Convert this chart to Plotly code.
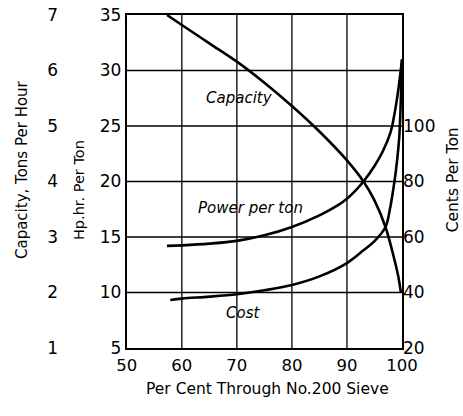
import plotly.graph_objects as go

# Data
pct_cap = [57.3, 60, 65, 70, 75, 80, 85, 90, 93, 95, 97, 98.5, 99.3, 99.8]
capacity = [7.0, 6.82, 6.49, 6.16, 5.78, 5.36, 4.9, 4.38, 4.0, 3.66, 3.18, 2.64, 2.3, 2.0]

pct_pow = [57.3, 60, 65, 70, 75, 80, 85, 88, 90, 91.5, 93, 95, 96.5, 97.9, 98.6, 99.2, 99.6, 100]
power = [14.2, 14.25, 14.4, 14.65, 15.15, 15.9, 16.95, 17.75, 18.45, 19.15, 20.0, 21.4, 22.7, 24.4, 26.0, 27.8, 29.3, 31.0]

pct_cost = [57.9, 60, 65, 70, 75, 80, 85, 90, 93, 95, 97, 97.8, 98.4, 98.9, 99.5, 99.8, 100]
cost = [37.3, 37.8, 38.5, 39.4, 40.8, 42.7, 45.8, 50.6, 55.2, 58.5, 63.6, 70.0, 77.0, 84.0, 96.0, 110.0, 124.0]

x_ticks = [50, 60, 70, 80, 90, 100]
hp_ticks = [5, 10, 15, 20, 25, 30, 35]
cap_ticks = [1, 2, 3, 4, 5, 6, 7]
cents_ticks = [20, 40, 60, 80, 100]

FONT = "DejaVu Sans"
W, H = 463, 416
ML, MR, MT, MB = 0, 61.3, 15, 68
paper_w = W - ML - MR
plot_left = 126.7

def px_x(px):
    return (px - ML) / paper_w

def px_y(py):
    return (H - MB - py) / (H - MT - MB)

line = dict(color="black", width=2.6, shape="spline", smoothing=1.0)

fig = go.Figure()
fig.add_trace(go.Scatter(x=pct_cap, y=capacity, yaxis="y2", mode="lines", line=line, hoverinfo="skip"))
fig.add_trace(go.Scatter(x=pct_pow, y=power, yaxis="y", mode="lines", line=line, hoverinfo="skip"))
fig.add_trace(go.Scatter(x=pct_cost, y=cost, yaxis="y3", mode="lines", line=line, hoverinfo="skip"))

tickfont = dict(family=FONT, size=17, color="black")

fig.update_layout(
    width=W, height=H,
    margin=dict(l=ML, r=MR, t=MT, b=MB, autoexpand=False),
    paper_bgcolor="white", plot_bgcolor="white",
    showlegend=False,
    xaxis=dict(domain=[px_x(plot_left), 1], range=[50, 100], tickvals=x_ticks,
               showgrid=False, automargin=False, ticklabelstandoff=1,
               showline=True, linecolor="black", linewidth=2, mirror=True,
               ticks="", tickfont=dict(family=FONT, size=16.5, color="black"), zeroline=False),
    yaxis=dict(range=[5, 35], tickvals=hp_ticks, automargin=False,
               showgrid=False,
               showline=True, linecolor="black", linewidth=2, mirror=True,
               ticks="", tickfont=tickfont, zeroline=False),
    yaxis2=dict(range=[1, 7], tickvals=cap_ticks, overlaying="y", anchor="free",
                position=px_x(58), side="left", showgrid=False, showline=False,
                automargin=False, ticks="", tickfont=tickfont, zeroline=False),
    yaxis3=dict(range=[20, 140], tickvals=cents_ticks, overlaying="y", anchor="x",
                side="right", showgrid=False, showline=False,
                automargin=False, ticks="", tickfont=tickfont, zeroline=False),
)

# grid lines at the interior tick values
for v in x_ticks[1:-1]:
    fig.add_shape(type="line", xref="x", yref="y", x0=v, x1=v, y0=hp_ticks[0], y1=hp_ticks[-1],
                  line=dict(color="black", width=1.3), layer="below")
for v in hp_ticks[1:-1]:
    fig.add_shape(type="line", xref="x", yref="y", x0=x_ticks[0], x1=x_ticks[-1], y0=v, y1=v,
                  line=dict(color="black", width=1.3), layer="below")

titles = [
    ("Capacity, Tons Per Hour", px_x(22), px_y(170), -90, 15),
    ("Hp.hr. Per Ton", px_x(79), px_y(190), -90, 14.5),
    ("Cents Per Ton", px_x(453), px_y(180), -90, 15.5),
    ("Per Cent Through No.200 Sieve", px_x(267.5), px_y(389), 0, 15.5),
]
for text, x, y, ang, sz in titles:
    fig.add_annotation(text=text, x=x, y=y, xref="paper", yref="paper",
                       textangle=ang, showarrow=False,
                       font=dict(family=FONT, size=sz, color="black"),
                       xanchor="center", yanchor="middle")

labels = [("Capacity", 70.4, 27.5), ("Power per ton", 72.4, 17.6), ("Cost", 71.1, 8.15)]
for text, x, y in labels:
    fig.add_annotation(text="<i>" + text + "</i>", x=x, y=y, xref="x", yref="y",
                       showarrow=False, font=dict(family=FONT, size=15, color="black"),
                       xanchor="center", yanchor="middle")

fig.write_html("out.html", config={"displayModeBar": False},
               post_script="document.body.style.margin='0px';")
